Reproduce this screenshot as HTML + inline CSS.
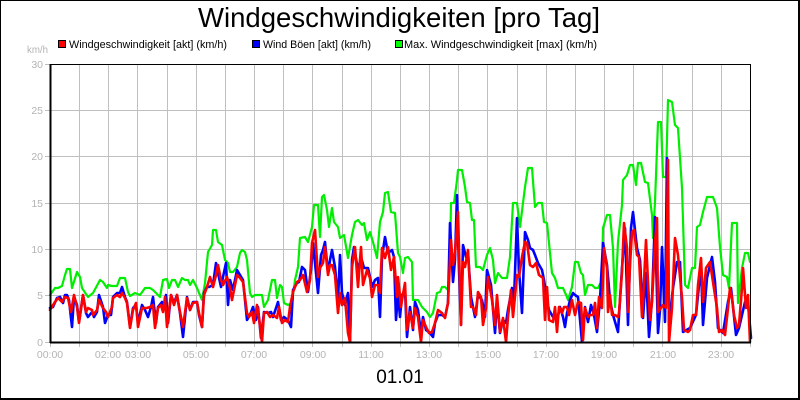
<!DOCTYPE html>
<html><head><meta charset="utf-8"><style>
html,body{margin:0;padding:0;background:#fff;}
svg{display:block;}
text{font-family:"Liberation Sans",Arial,sans-serif;}
</style></head><body>
<svg width="800" height="400" viewBox="0 0 800 400" xmlns="http://www.w3.org/2000/svg">
<rect x="0" y="0" width="800" height="400" fill="#fff"/>
<!-- outer border -->
<rect x="0.5" y="0.5" width="798" height="398" fill="none" stroke="#000" stroke-width="1"/>
<line x1="799" y1="0" x2="799" y2="400" stroke="#000" stroke-width="2"/>
<line x1="0" y1="399" x2="800" y2="399" stroke="#000" stroke-width="2"/>

<!-- title -->
<text x="198" y="27" font-size="27.5" fill="#000" textLength="402" lengthAdjust="spacingAndGlyphs">Windgeschwindigkeiten [pro Tag]</text>

<!-- legend -->
<rect x="58.5" y="40.5" width="7" height="7" fill="#ff0000" stroke="#000" stroke-width="1"/>
<text x="69" y="48" font-size="11" fill="#000" textLength="158" lengthAdjust="spacingAndGlyphs">Windgeschwindigkeit [akt] (km/h)</text>
<rect x="252.5" y="40.5" width="7" height="7" fill="#0000ff" stroke="#000" stroke-width="1"/>
<text x="263" y="48" font-size="11" fill="#000" textLength="108" lengthAdjust="spacingAndGlyphs">Wind Böen [akt] (km/h)</text>
<rect x="395.5" y="40.5" width="7" height="7" fill="#00ff00" stroke="#000" stroke-width="1"/>
<text x="404" y="48" font-size="11" fill="#000" textLength="193" lengthAdjust="spacingAndGlyphs">Max. Windgeschwindigkeit [max] (km/h)</text>

<!-- unit -->
<text x="27" y="53" font-size="10" fill="#b4b4b4" textLength="21" lengthAdjust="spacingAndGlyphs">km/h</text>

<!-- grid -->
<g stroke="#c0c0c0" stroke-width="1" fill="none">
<path d="M79.5 64V342M108.5 64V342M137.5 64V342M167.5 64V342M196.5 64V342M225.5 64V342M254.5 64V342M283.5 64V342M312.5 64V342M342.5 64V342M371.5 64V342M400.5 64V342M429.5 64V342M458.5 64V342M487.5 64V342M517.5 64V342M546.5 64V342M575.5 64V342M604.5 64V342M633.5 64V342M662.5 64V342M692.5 64V342M721.5 64V342"/>
<path d="M50 295.5H750M50 249.5H750M50 203.5H750M50 156.5H750M50 110.5H750"/>
<!-- x ticks -->
<path d="M50.5 342V347M79.5 342V347M108.5 342V347M137.5 342V347M167.5 342V347M196.5 342V347M225.5 342V347M254.5 342V347M283.5 342V347M312.5 342V347M342.5 342V347M371.5 342V347M400.5 342V347M429.5 342V347M458.5 342V347M487.5 342V347M517.5 342V347M546.5 342V347M575.5 342V347M604.5 342V347M633.5 342V347M662.5 342V347M692.5 342V347M721.5 342V347M750.5 342V347"/>
<!-- y ticks -->
<path d="M45 64.5H50M45 110.5H50M45 156.5H50M45 203.5H50M45 249.5H50M45 295.5H50M45 342.5H50"/>
</g>

<!-- y labels -->
<g font-size="10.5" fill="#b4b4b4" text-anchor="end">
<text x="43" y="68">30</text>
<text x="43" y="114">25</text>
<text x="43" y="160">20</text>
<text x="43" y="207">15</text>
<text x="43" y="253">10</text>
<text x="43" y="299">5</text>
<text x="43" y="346">0</text>
</g>

<!-- x labels -->
<g font-size="10.5" fill="#b4b4b4" text-anchor="middle">
<text x="50" y="358">00:00</text>
<text x="108" y="358">02:00</text>
<text x="138" y="358">03:00</text>
<text x="196" y="358">05:00</text>
<text x="254" y="358">07:00</text>
<text x="313" y="358">09:00</text>
<text x="371" y="358">11:00</text>
<text x="429" y="358">13:00</text>
<text x="488" y="358">15:00</text>
<text x="546" y="358">17:00</text>
<text x="604" y="358">19:00</text>
<text x="663" y="358">21:00</text>
<text x="721" y="358">23:00</text>
</g>

<text x="400" y="383" font-size="19" fill="#000" text-anchor="middle">01.01</text>

<!-- series -->
<g fill="none" stroke-linejoin="round" stroke-linecap="round">
<polyline stroke="#00ee00" stroke-width="2.2" points="50,295 55,288 58,288 62,286 65,275 67,269 70,269 72,288 77,272 80,277 82,288 88,297 93,293 100,280 103,282 107,288 108,285 112,286 117,286 120,278 125,278 128,292 130,296 135,293 140,295 145,288 150,288 153,290 158,295 160,297 163,280 167,279 169,288 172,280 175,280 178,287 182,278 185,280 188,280 190,285 193,280 197,288 202,300 205,283 208,252 212,245 213,230 216,230 218,242 222,245 225,260 228,263 230,272 233,272 237,267 240,253 242,250 245,252 247,260 250,293 252,297 255,295 262,295 264,307 268,300 272,280 275,280 277,298 280,285 282,287 284,303 288,305 292,303 295,280 298,267 300,238 305,237 308,242 312,227 314,205 318,205 320,237 322,197 324,195 327,210 329,227 332,208 334,222 338,227 340,238 344,235 347,252 348,258 352,235 355,222 358,220 362,225 364,223 367,240 370,232 373,242 377,258 380,222 383,212 385,193 388,192 391,212 395,213 398,253 400,257 403,273 405,258 408,257 412,262 413,300 418,300 422,307 427,312 430,317 433,313 437,293 440,292 442,287 445,287 448,290 450,260 451,203 454,203 457,180 458,170 462,170 465,187 467,202 470,203 472,220 474,220 476,267 480,267 483,270 487,255 490,248 493,260 495,283 498,273 502,278 507,278 510,257 513,203 517,203 520,227 525,187 528,168 532,168 535,207 538,203 542,203 544,222 547,223 552,273 555,278 558,288 563,288 567,297 568,300 572,287 575,262 578,262 581,273 583,275 585,295 588,285 592,285 595,288 598,288 602,280 603,228 607,215 610,215 613,248 615,307 618,242 622,205 623,180 627,175 630,165 633,165 636,185 638,163 641,163 645,182 648,183 652,215 653,238 655,202 658,122 661,122 663,177 666,177 668,100 672,102 675,125 678,128 682,188 685,285 688,288 692,268 695,268 697,227 700,225 703,212 707,197 713,197 717,208 720,247 723,275 727,277 729,288 732,223 737,223 738,303 742,268 745,253 748,253 750,262"/>
<polyline stroke="#0000ff" stroke-width="2.6" points="50,308 53,307 57,298 60,297 63,303 65,295 67,295 69,300 72,327 74,297 77,305 79,322 83,295 86,313 88,317 92,312 94,317 97,312 99,295 103,307 105,323 108,315 111,315 113,297 117,293 120,293 122,287 125,297 127,302 130,327 133,308 136,305 138,323 142,305 145,310 148,317 151,307 153,297 156,323 158,307 162,302 164,307 166,295 168,323 171,295 174,303 177,295 180,313 183,337 187,297 190,310 193,302 197,302 199,315 202,327 204,293 207,287 209,287 213,285 216,263 218,273 221,287 223,277 226,263 228,305 230,280 233,290 237,270 240,275 243,280 247,320 250,315 253,307 256,320 258,307 261,338 264,312 268,313 271,312 273,317 278,302 281,320 284,317 288,320 291,327 293,290 297,283 299,282 302,267 305,270 308,292 311,270 313,243 316,273 318,293 321,255 323,250 325,242 328,273 330,260 332,250 335,267 338,300 340,255 342,293 345,305 348,293 350,342 352,260 354,247 358,270 361,257 364,268 368,268 370,277 372,287 375,280 378,278 380,317 382,257 385,237 388,253 392,250 394,257 396,320 398,293 400,317 402,295 405,290 407,337 410,307 413,330 415,302 418,310 421,333 423,317 426,330 429,332 433,337 435,323 438,315 442,315 445,317 448,303 450,223 453,282 455,260 457,195 459,270 461,325 463,245 466,257 468,253 471,297 473,307 475,317 478,295 482,300 485,317 487,270 491,285 495,333 497,300 500,333 503,320 506,323 508,310 512,288 514,300 517,218 519,270 522,313 525,232 528,240 530,248 533,250 535,255 538,263 542,270 544,280 547,300 549,310 553,317 555,317 557,320 560,307 563,317 565,327 567,313 570,300 573,293 575,295 578,297 582,342 585,307 588,322 591,305 594,315 597,332 600,300 603,243 607,265 610,300 613,315 618,332 622,268 625,228 628,325 631,228 633,212 637,248 640,260 643,318 646,273 649,337 652,300 655,217 658,333 660,310 662,247 665,322 667,158 669,325 673,288 677,262 680,262 683,332 690,328 696,315 698,295 701,265 703,325 707,278 712,257 715,282 718,328 723,333 728,302 731,288 736,335 739,328 745,302 748,303 751,338"/>
<polyline stroke="#ff0000" stroke-width="2.6" points="50,310 55,302 58,298 62,302 65,297 68,298 71,312 74,295 77,307 79,323 83,295 86,312 88,308 92,310 93,315 97,310 99,300 103,308 106,312 108,317 112,307 113,298 117,295 120,297 122,293 125,298 127,303 130,328 133,310 136,303 138,327 142,308 145,308 147,308 150,307 153,305 155,328 158,308 161,305 163,312 165,297 167,327 171,295 174,305 177,295 180,312 183,327 187,298 190,310 193,303 197,302 199,313 202,327 204,295 207,287 210,277 213,287 216,275 218,265 221,280 223,285 227,277 230,288 232,300 237,275 240,278 243,282 247,313 249,317 252,312 254,323 257,305 259,318 262,342 264,313 267,312 270,317 273,315 277,318 279,307 282,323 285,320 288,322 290,307 293,292 297,282 300,280 303,275 307,292 310,280 312,243 315,230 318,277 320,268 323,263 325,247 328,275 330,265 332,265 335,275 338,313 340,293 342,305 345,298 348,333 350,342 352,267 355,247 358,287 361,247 363,285 367,270 370,278 372,297 375,285 378,285 380,293 382,248 385,258 388,247 391,270 394,257 397,297 398,277 401,307 402,300 405,283 407,330 410,312 413,328 415,308 418,317 421,342 423,320 426,327 429,333 432,332 435,323 438,310 442,313 445,318 448,303 451,240 453,265 455,253 458,212 461,325 463,262 465,267 468,250 471,307 473,307 476,315 478,292 481,297 483,325 486,308 488,277 492,300 495,325 497,295 500,332 503,318 506,342 508,317 511,290 513,317 517,275 519,277 522,257 525,242 527,243 530,265 533,267 536,263 539,275 543,278 545,320 547,287 549,320 553,322 555,307 557,332 559,307 562,313 564,307 567,307 569,315 572,300 575,315 578,302 581,303 583,340 585,308 588,317 590,315 593,315 595,303 597,328 599,297 602,308 604,248 607,268 608,312 610,295 612,315 615,315 618,317 619,313 622,272 624,223 627,248 628,312 630,265 632,232 634,230 637,255 639,257 642,317 643,302 646,240 648,282 650,320 652,302 655,243 657,218 658,312 661,308 663,305 666,308 668,160 669,342 672,308 675,238 678,255 680,277 682,298 684,330 688,332 690,330 693,315 696,315 698,285 701,258 703,302 706,268 708,265 710,262 713,282 717,308 719,332 722,330 725,335 728,308 730,288 732,298 734,315 737,328 739,325 742,288 743,268 746,308 748,295 750,342"/>
</g>

<!-- plot frame -->
<rect x="50.5" y="64.5" width="700" height="278" fill="none" stroke="#000" stroke-width="1"/>
<line x1="50" y1="342.5" x2="751" y2="342.5" stroke="#000" stroke-width="2"/>
<line x1="50.5" y1="64" x2="50.5" y2="343" stroke="#000" stroke-width="2"/>
</svg>
</body></html>
